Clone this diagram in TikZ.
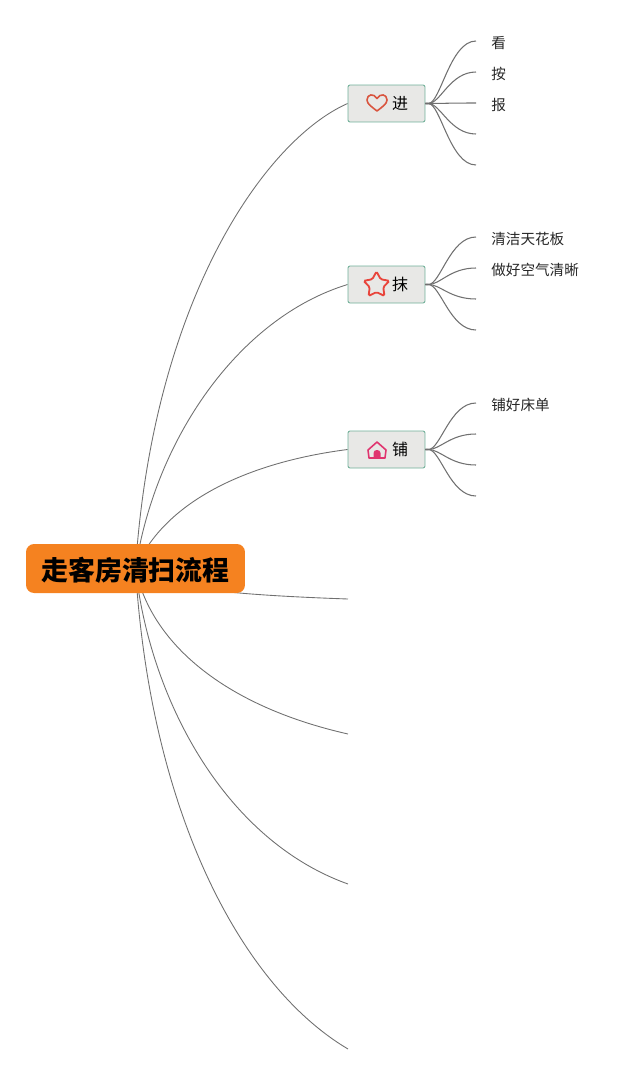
\documentclass[tikz,border=0pt]{standalone}
\usepackage{fontspec}
\setmainfont{Noto Sans CJK SC}
\usetikzlibrary{shapes.geometric, backgrounds}
\definecolor{rootorange}{HTML}{F58220}
\definecolor{boxgray}{HTML}{E8E8E6}
\definecolor{boxteal}{HTML}{6FAF98}
\definecolor{linegray}{HTML}{707070}
\definecolor{heartred}{HTML}{D9553F}
\definecolor{starred}{HTML}{E8453C}
\definecolor{homepink}{HTML}{E0356F}

\begin{document}
\begin{tikzpicture}[x=0.02cm, y=-0.02cm,
        rootbox/.style={fill=rootorange, text=black, rounded corners=0.16cm, font=\fontsize{15.3}{18}\selectfont\bfseries, minimum width=4.38cm, minimum height=0.98cm, inner sep=0pt, text height=16pt, text depth=2.1pt},
        branchbox/.style={draw=boxteal, fill=boxgray, rounded corners=0.04cm, line width=0.5pt, font=\fontsize{9.1}{11}\selectfont, minimum width=1.54cm, minimum height=0.74cm, inner sep=0pt, execute at begin node={\hspace{0.54cm}}},
        leaf/.style={anchor=west, font=\fontsize{8.3}{10}\selectfont, inner xsep=0.3cm, inner ysep=0pt, text height=9.6pt, text depth=1pt, text=black!85},
        limb/.style={draw=linegray, line width=0.5pt},
        twig/.style={draw=linegray, line width=0.6pt},
        icon/.style={line width=0.9pt, line join=round}]
      \useasboundingbox (0,0) rectangle (640,1075);
      \node[rootbox] (root) at (135.5,568.5) {走客房清扫流程};
      \node[branchbox] (jin) at (386.5,103.5) {进};
      \node[branchbox] (mo) at (386.5,284.5) {抹};
      \node[branchbox] (pu) at (386.5,449.5) {铺};
      % free ends of the main limbs
      \coordinate (limbd) at (348,599);
      \coordinate (limbe) at (348,734);
      \coordinate (limbf) at (348,884);
      \coordinate (limbg) at (348,1049);
      % leaves
      \node[leaf] (kan) at (476,41) {看};
      \node[leaf] (an) at (476,72) {按};
      \node[leaf] (bao) at (476,103) {报};
      \coordinate (jind) at (476,134);
      \coordinate (jine) at (476,165);
      \node[leaf] (qing) at (476,237) {清洁天花板};
      \node[leaf] (zuo) at (476,268) {做好空气清晰};
      \coordinate (moc) at (476,299);
      \coordinate (mod) at (476,330);
      \node[leaf] (puhao) at (476,403) {铺好床单};
      \coordinate (pub) at (476,434);
      \coordinate (puc) at (476,465);
      \coordinate (pud) at (476,496);
      % icons
      \draw[icon, draw=heartred] (377,111) .. controls (372,107) and (367,104) .. (367,100) .. controls (367,94) and (374,93) .. (377,98.5) .. controls (380,93) and (387,94) .. (387,100) .. controls (387,104) and (382,107) .. (377,111) -- cycle;
      \node[star, star points=5, star point ratio=1.9, draw=starred, line width=1.05pt, minimum size=0.54cm, inner sep=0pt, rounded corners=0.03cm] (starmark) at (376.5,285) {};
      \draw[icon, draw=homepink] (377,442) -- (386,450) -- (385,458) -- (369,458) -- (368,450) -- cycle;
      \fill[homepink] (373.5,458) -- (373.5,453) .. controls (373.5,449) and (380.5,449) .. (380.5,453) -- (380.5,458) -- cycle;
      \begin{scope}[on background layer]
        \draw[limb] (root.center) .. controls (153,300) and (265,140) .. (jin.west);
        \draw[limb] (root.center) .. controls (155,440) and (238,318) .. (mo.west);
        \draw[limb] (root.center) .. controls (165,500) and (250,462) .. (pu.west);
        \draw[limb] (root.center) .. controls (155,588) and (235,595) .. (limbd);
        \draw[limb] (root.center) .. controls (150,640) and (220,705) .. (limbe);
        \draw[limb] (root.center) .. controls (150,700) and (225,840) .. (limbf);
        \draw[limb] (root.center) .. controls (150,810) and (240,985) .. (limbg);
      \end{scope}
      \foreach \tip in {kan,an,bao,jind,jine}
        \draw[twig] (jin.east) -- ++(3,0) .. controls +(12,0) and +(-26,0) .. (\tip.west);
      \foreach \tip in {qing,zuo,moc,mod}
        \draw[twig] (mo.east) -- ++(3,0) .. controls +(12,0) and +(-26,0) .. (\tip.west);
      \foreach \tip in {puhao,pub,puc,pud}
        \draw[twig] (pu.east) -- ++(3,0) .. controls +(12,0) and +(-26,0) .. (\tip.west);
    \end{tikzpicture}
\end{document}
